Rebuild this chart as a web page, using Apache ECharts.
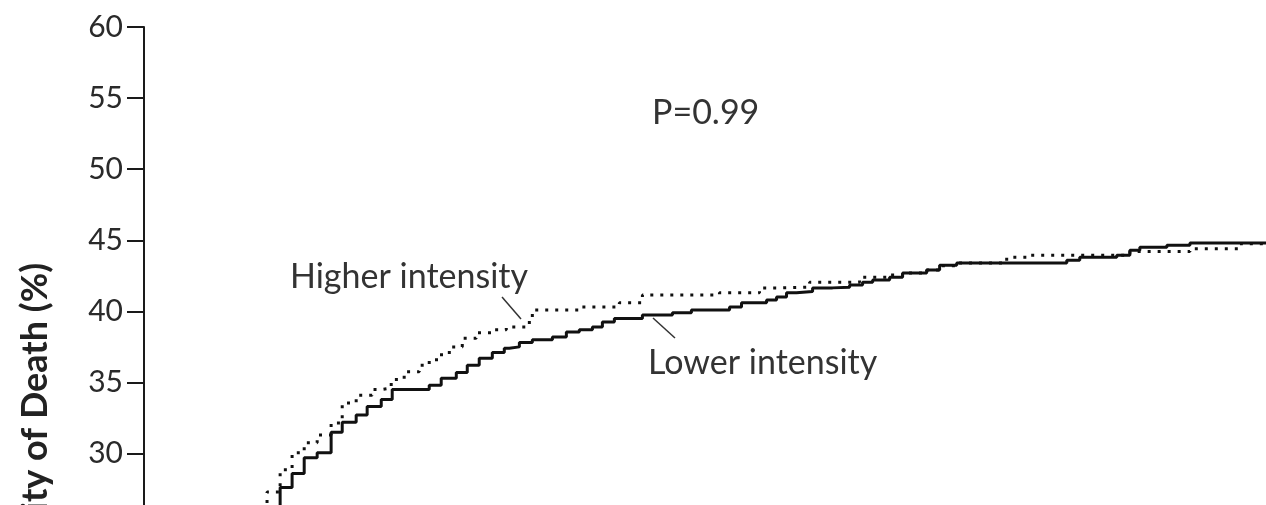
<!DOCTYPE html>
<html>
<head>
<meta charset="utf-8">
<script src="https://cdn.jsdelivr.net/npm/echarts@6/dist/echarts.min.js"></script>
<style>html,body{margin:0;padding:0;background:#fff;width:1266px;height:505px;overflow:hidden;}#c{width:1266px;height:1000px;}</style>
</head>
<body>
<div id="c"></div>
<script>
// Days since randomization and cumulative probability of death (%)
const lowerDays = [0, 10.92, 11.88, 12.85, 13.89, 15.01, 15.90, 17.02, 17.90, 19.03, 19.91, 22.88, 23.84, 25.05, 25.93, 26.89, 27.94, 28.90, 29.30, 30.11, 31.15, 32.76, 33.88, 34.92, 35.97, 36.77, 37.73, 39.98, 42.39, 43.91, 46.97, 47.93, 49.94, 50.74, 51.54, 52.34, 53.63, 55.23, 56.60, 57.64, 58.45, 59.81, 60.85, 62.78, 63.82, 65.19, 74.02, 75.06, 78.03, 79.08, 79.88, 82.05, 83.90, 90];
const lowerDeath = [0, 27.6, 28.6, 29.7, 30.05, 31.5, 32.2, 32.7, 33.3, 33.8, 34.5, 34.8, 35.3, 35.7, 36.2, 36.7, 37.1, 37.4, 37.5, 37.8, 38.0, 38.2, 38.55, 38.7, 38.9, 39.25, 39.5, 39.75, 39.9, 40.1, 40.3, 40.6, 40.8, 41.0, 41.3, 41.4, 41.65, 41.7, 41.85, 42.05, 42.2, 42.4, 42.7, 42.9, 43.25, 43.4, 43.6, 43.8, 43.95, 44.3, 44.5, 44.65, 44.8, 44.8];
const higherDays = [0, 9.87, 10.92, 11.88, 12.85, 13.89, 15.01, 15.90, 17.02, 18.30, 19.03, 19.83, 20.87, 22.08, 22.88, 23.68, 24.49, 25.53, 26.65, 27.86, 29.06, 30.91, 31.15, 34.92, 38.13, 39.98, 46.16, 49.37, 50.74, 53.39, 57.40, 59.81, 60.85, 62.78, 63.82, 65.19, 69.20, 71.05, 79.08, 83.90, 87.91, 90];
const higherDeath = [0, 27.3, 28.85, 30.05, 30.75, 31.3, 32.15, 33.55, 34.1, 34.5, 34.6, 35.2, 35.75, 36.2, 36.6, 36.95, 37.5, 38.1, 38.5, 38.7, 38.9, 39.6, 40.1, 40.3, 40.6, 41.15, 41.3, 41.65, 41.7, 42.05, 42.4, 42.55, 42.7, 42.9, 43.2, 43.4, 43.8, 43.95, 44.2, 44.4, 44.75, 44.75];
const yTicks = [0, 5, 10, 15, 20, 25, 30, 35, 40, 45, 50, 55, 60];
const seriesNames = ['Lower intensity', 'Higher intensity'];
const pText = 'P=0.99';

const FONT = 'Lato';
const ink = '#1a1a1a';
const chart = echarts.init(document.getElementById('c'));
chart.setOption({
  animation: false,
  backgroundColor: '#fff',
  grid: { left: 144, right: 0, top: 27, bottom: 120, containLabel: false, outerBoundsMode: 'none' },
  xAxis: {
    type: 'value', min: 0, max: 90, interval: 10,
    name: 'Days since Randomization', nameLocation: 'middle', nameGap: 45,
    nameTextStyle: { fontFamily: FONT, fontSize: 34, fontWeight: 'bold', color: '#222' },
    axisLine: { lineStyle: { color: ink, width: 2 } },
    axisTick: { show: true, length: 17, lineStyle: { color: ink, width: 2 } },
    axisLabel: { fontFamily: FONT, fontSize: 30, color: '#2a2a2a', margin: 22 },
    splitLine: { show: false }
  },
  yAxis: {
    type: 'value', min: yTicks[0], max: yTicks[yTicks.length - 1], interval: 5,
    name: 'Probability of Death (%)', nameLocation: 'middle', nameGap: 91, nameRotate: 90,
    nameTextStyle: { fontFamily: FONT, fontSize: 36, fontWeight: 'bold', color: '#222' },
    axisLine: { show: true, lineStyle: { color: ink, width: 2 } },
    axisTick: { show: true, length: 17, lineStyle: { color: ink, width: 2 } },
    axisLabel: { fontFamily: FONT, fontSize: 30, color: '#2a2a2a', margin: 21 },
    splitLine: { show: false }
  },
  series: [
    {
      name: seriesNames[0], type: 'line', step: 'end', showSymbol: false,
      data: lowerDays.map((d, i) => [d, lowerDeath[i]]),
      lineStyle: { color: '#111', width: 3 }
    },
    {
      name: seriesNames[1], type: 'line', step: 'end', showSymbol: false,
      data: higherDays.map((d, i) => [d, higherDeath[i]]),
      lineStyle: { color: '#111', width: 3, type: [3, 7] }
    }
  ],
  graphic: [
    { type: 'text', x: 652, y: 113, style: { text: pText, font: '34px ' + FONT, fill: '#333', verticalAlign: 'middle' } },
    { type: 'text', x: 290, y: 277, style: { text: seriesNames[1], font: '34px ' + FONT, fill: '#333', verticalAlign: 'middle' } },
    { type: 'line', shape: { x1: 502, y1: 297, x2: 521, y2: 319 }, style: { stroke: '#333', lineWidth: 1.5 } },
    { type: 'text', x: 648, y: 363, style: { text: seriesNames[0], font: '34px ' + FONT, fill: '#333', verticalAlign: 'middle' } },
    { type: 'line', shape: { x1: 653, y1: 318, x2: 675, y2: 338 }, style: { stroke: '#333', lineWidth: 1.5 } }
  ]
});
</script>
</body>
</html>
